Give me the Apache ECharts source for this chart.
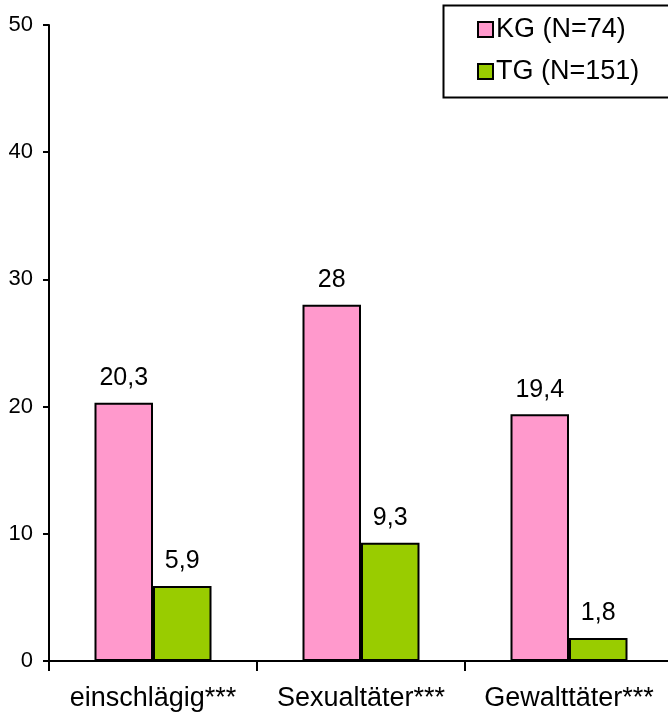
<!DOCTYPE html>
<html>
<head>
<meta charset="utf-8">
<script src="https://cdn.jsdelivr.net/npm/echarts@6/dist/echarts.min.js"></script>
<style>
  html, body { margin: 0; padding: 0; background: #fff; }
  #chart { width: 668px; height: 719px; }
</style>
</head>
<body>
<div id="chart"></div>
<script>
// Categories and group values (percent)
const categories = ['einschlägig***', 'Sexualtäter***', 'Gewalttäter***'];
const kgValues = [20.3, 28, 19.4];
const tgValues = [5.9, 9.3, 1.8];
const seriesNames = ['KG (N=74)', 'TG (N=151)'];
const yTicks = [0, 10, 20, 30, 40, 50];

const FONT = '"Liberation Sans", Arial, sans-serif';
const fmt = v => String(v).replace('.', ',');

const chart = echarts.init(document.getElementById('chart'));

const barLabel = {
  show: true,
  position: 'top',
  distance: 12,
  fontFamily: FONT,
  fontSize: 25,
  color: '#000',
  formatter: p => fmt(p.value)
};

chart.setOption({
  animation: false,
  backgroundColor: '#fff',
  textStyle: { fontFamily: FONT },
  grid: {
    left: 49, width: 624, top: 25, bottom: 58,
    containLabel: false,
    outerBoundsMode: 'none'
  },
  legend: {
    orient: 'vertical',
    left: 472,
    top: 11,
    itemGap: 15,
    itemWidth: 15,
    itemHeight: 15,
    icon: 'rect',
    itemStyle: { borderColor: '#000', borderWidth: 2 },
    textStyle: { fontFamily: FONT, fontSize: 27, lineHeight: 26, color: '#000', padding: [0, 0, 0, -2] },
    data: seriesNames
  },
  graphic: [{
    type: 'rect',
    left: 441,
    top: 3,
    shape: { width: 240, height: 92 },
    style: { fill: 'none', stroke: '#000', lineWidth: 2 },
    z: 100
  }],
  xAxis: {
    type: 'category',
    data: categories,
    axisLine: { lineStyle: { color: '#000', width: 2 } },
    axisTick: { show: true, interval: 0, length: 10, lineStyle: { color: '#000', width: 2 } },
    axisLabel: { interval: 0, hideOverlap: false, fontFamily: FONT, fontSize: 27, color: '#000', margin: 24 }
  },
  yAxis: {
    type: 'value',
    min: yTicks[0],
    max: yTicks[yTicks.length - 1],
    interval: 10,
    splitLine: { show: false },
    axisLine: { show: true, lineStyle: { color: '#000', width: 2 } },
    axisTick: { show: true, length: 6, lineStyle: { color: '#000', width: 2 } },
    axisLabel: { fontFamily: FONT, fontSize: 22, color: '#000', margin: 16 }
  },
  series: [
    {
      name: seriesNames[0],
      type: 'bar',
      data: kgValues,
      barWidth: 58.5,
      barGap: '0%',
      itemStyle: { color: '#FF99CC', borderColor: '#000', borderWidth: 2 },
      label: barLabel
    },
    {
      name: seriesNames[1],
      type: 'bar',
      data: tgValues,
      barWidth: 58.5,
      barGap: '0%',
      itemStyle: { color: '#99CC00', borderColor: '#000', borderWidth: 2 },
      label: barLabel
    }
  ]
});
</script>
</body>
</html>
